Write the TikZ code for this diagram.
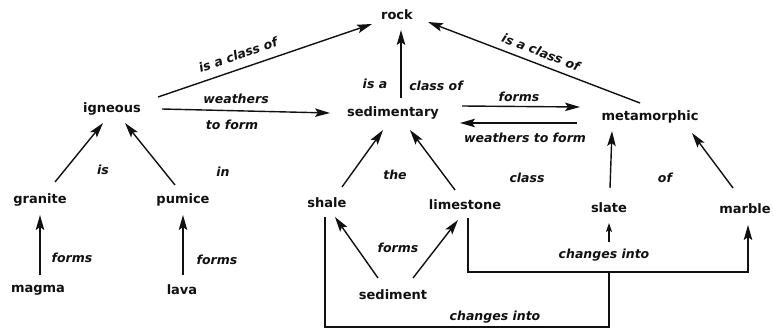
\documentclass[tikz,border=0pt]{standalone}
\usepackage{fontspec}
\setmainfont{DejaVu Sans}
\usetikzlibrary{calc,arrows.meta,positioning}
\definecolor{ink}{HTML}{111111}
\newcommand{\rel}[4]{\node[rel] (#1) at (#2,#3){#4};}

\begin{document}
\begin{tikzpicture}[x=1pt,y=1pt,
  concept/.style={font=\fontsize{13}{15}\selectfont\bfseries,text=ink,inner sep=1pt},
  rel/.style={font=\fontsize{12.5}{14}\selectfont\bfseries\itshape,text=ink,inner sep=1pt},
  arr/.style={ink,line width=1.4pt,-{Stealth[length=15pt,width=8.5pt,inset=3pt]}},
  small/.style={ink,line width=1.4pt,-{Stealth[length=9pt,width=6pt,inset=2pt]}},
  wire/.style={ink,line width=1.4pt}]
\fill[white] (0,0) rectangle (774,333);\useasboundingbox (0,0) rectangle (774,333);
% concepts
\node[concept] (rock) at (397,318){rock};
\node[concept] (igneous) at (112,224){igneous};\node[concept] (sedimentary) at (393,220){sedimentary};\node[concept] (metamorphic) at (650,216){metamorphic};
\node[concept] (granite) at (40,133){granite};\node[concept] (pumice) at (183,133){pumice};
\node[concept] (shale) at (327,130){shale};\node[concept] (limestone) at (465,128){limestone};
\node[concept] (slate) at (609,125){slate};\node[concept] (marble) at (745,124){marble};
\node[concept] (magma) at (38,43){magma};\node[concept] (lava) at (182,43){lava};\node[concept] (sediment) at (393,38){sediment};
% link words
\node[rel,rotate=19] (classL) at (238,278){is a class of};\node[rel,rotate=-21] (classR) at (541,281){is a class of};
\rel{weathA}{236}{234}{weathers}\rel{toform}{232}{208}{to form}
\rel{isa}{375}{249}{is a}\rel{classof}{436}{247}{class of}
\rel{formsM}{519}{236}{forms}\rel{weathB}{525}{195}{weathers to form}
\rel{is}{103}{163}{is}\rel{in}{223}{161}{in}\rel{the}{395}{158}{the}\rel{class}{527}{155}{class}\rel{of}{665}{155}{of}
\rel{formsG}{72}{75}{forms}\rel{formsP}{217}{73}{forms}\rel{formsS}{398}{85}{forms}
\rel{chgA}{604}{78}{changes into}\rel{chgB}{495}{16}{changes into}
% upper links
\draw[arr] ($(igneous)+(46,12)$) -- ($(rock)+(-25,-9)$);
\draw[arr] ($(igneous)+(50,0)$) -- ($(sedimentary)+(-63,0)$);
\draw[arr] ($(sedimentary)+(8,15)$) -- ($(rock)+(4,-15)$);
\draw[arr] ($(metamorphic)+(-10,14)$) -- ($(rock)+(31,-7)$);
\draw[arr] ($(sedimentary)+(69,7)$) -- ($(metamorphic)+(-70,10)$);
\draw[arr] ($(metamorphic)+(-73,-6)$) -- ($(sedimentary)+(67,-10)$);
% examples of each class
\draw[arr] ($(granite)+(15,18)$) -- ($(igneous)+(-9,-14)$);\draw[arr] ($(pumice)+(-8,15)$) -- ($(igneous)+(13,-14)$);
\draw[arr] ($(shale)+(15,16)$) -- ($(sedimentary)+(-10,-17)$);\draw[arr] ($(limestone)+(-10,15)$) -- ($(sedimentary)+(17,-17)$);
\draw[arr] ($(slate)+(1,20)$) -- ($(metamorphic)+(-38,-14)$);\draw[arr] ($(marble)+(-12,21)$) -- ($(metamorphic)+(42,-16)$);
% what forms them
\draw[arr] ($(magma)+(2,15)$) -- ($(granite)+(0,-15)$);\draw[arr] ($(lava)+(1,15)$) -- ($(pumice)+(0,-15)$);
\draw[arr] ($(sediment)+(-15,17)$) -- ($(shale)+(8,-14)$);\draw[arr] ($(sediment)+(20,17)$) -- ($(limestone)+(-7,-15)$);
% changes into
\coordinate (jn) at (609,61);\coordinate (jb) at (609,6);
\draw[wire] ($(shale)+(-2,-14)$) |- (jb) -- (jn);
\draw[arr] ($(limestone)+(3,-13)$) |- (jn) -| ($(marble)+(3,-16)$);
\draw[small] ($(chgA)+(5,13)$) -- ($(slate)+(0,-15)$);
\end{tikzpicture}
\end{document}
